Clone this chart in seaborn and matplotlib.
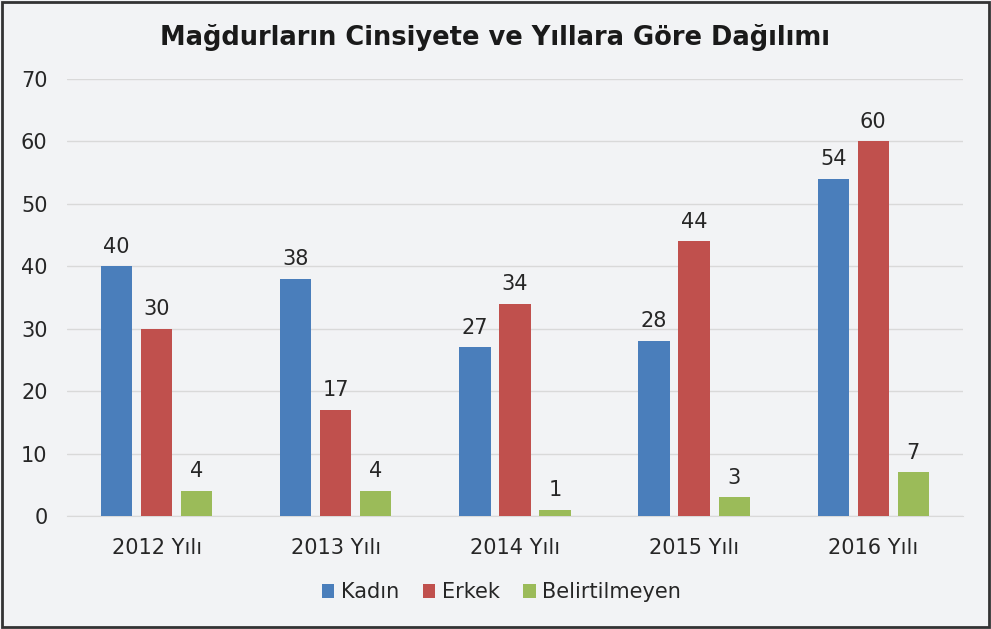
import pandas as pd
import seaborn as sns
import matplotlib.pyplot as plt
from matplotlib.patches import Rectangle

years = ["2012 Yılı", "2013 Yılı", "2014 Yılı", "2015 Yılı", "2016 Yılı"]
kadin = [40, 38, 27, 28, 54]
erkek = [30, 17, 34, 44, 60]
belirtilmeyen = [4, 4, 1, 3, 7]
groups = ["Kadın", "Erkek", "Belirtilmeyen"]
colors = ["#4a7ebb", "#c0504d", "#9bbb59"]

df = pd.DataFrame({"Yıl": years * 3,
                   "Grup": [g for g in groups for _ in years],
                   "Değer": kadin + erkek + belirtilmeyen})

sns.set_style("white")
plt.rcParams["font.family"] = ["DejaVu Sans"]
bg = "#f2f3f5"

fig = plt.figure(figsize=(9.91, 6.29), dpi=100, facecolor=bg)
ax = fig.add_axes([0.0676, 0.1797, 0.904, 0.6947], facecolor=bg)

sns.barplot(data=df, x="Yıl", y="Değer", hue="Grup", palette=colors,
            width=0.67, gap=0.22, saturation=1, linewidth=0, ax=ax, zorder=3)

for c in ax.containers:
    ax.bar_label(c, padding=7, fontsize=15, color="#262626")

ax.set_ylim(0, 70)
ax.set_yticks(range(0, 71, 10))
ax.set_xlim(-0.5, 4.5)
ax.yaxis.grid(True, color="#d9d9d9", linewidth=1, zorder=0)
ax.set_axisbelow(True)
for s in ["top", "right", "left"]:
    ax.spines[s].set_visible(False)
ax.spines["bottom"].set_color("#d9d9d9")
ax.tick_params(axis="both", length=0, labelsize=15, labelcolor="#262626")
ax.tick_params(axis="y", pad=14)
ax.tick_params(axis="x", pad=16)
ax.set_xlabel("")
ax.set_ylabel("")

ax.legend(loc="center", bbox_to_anchor=(0.485, -0.175), ncol=3, frameon=False,
          fontsize=15, handlelength=0.6, handleheight=0.6, handletextpad=0.3,
          columnspacing=1.15, labelcolor="#262626")

fig.text(0.5, 0.94, "Mağdurların Cinsiyete ve Yıllara Göre Dağılımı",
         ha="center", va="center", fontsize=18.5, fontweight="bold", color="#1a1a1a")

fig.patches.append(Rectangle((0.002, 0.003), 0.996, 0.994, transform=fig.transFigure,
                             fill=False, edgecolor="#333333", linewidth=2))

fig.savefig("out.png", dpi=100, facecolor=bg)
